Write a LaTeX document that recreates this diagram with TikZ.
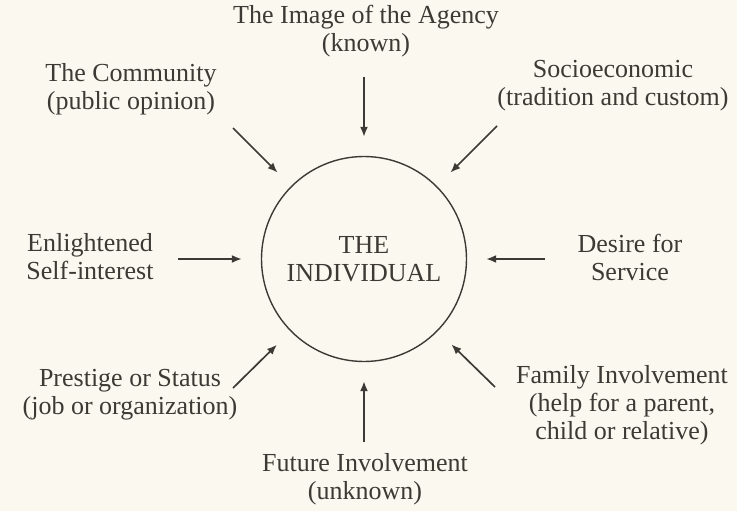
\documentclass[tikz,border=0pt]{standalone}
\usepackage{fontspec}
\setmainfont{Liberation Serif}
\usetikzlibrary{arrows.meta,positioning}
\definecolor{paper}{HTML}{FBF9EF}
\definecolor{ink}{HTML}{3E3934}

\begin{document}
\begin{tikzpicture}[x=1pt, y=-1pt]
    \tikzstyle{lbl} = [text=ink, align=center, font=\fontsize{26}{28}\selectfont, inner sep=0pt]
    \tikzstyle{core} = [circle, draw=ink, line width=1.4pt, minimum size=205pt, text=ink, align=center, font=\fontsize{26}{28}\selectfont]
    \tikzstyle{line} = [draw=ink, line width=1.7pt, -{Latex[length=10pt,width=8pt]}, shorten >=19pt]

    \fill [paper] (0,0) rectangle (737,511);
    \useasboundingbox (0,0) rectangle (737,511);

    \node [core] (ind) at (364,259) {THE\\INDIVIDUAL};

    \node [lbl] (agency) at (366,31) {The Image of the Agency\\(known)};
    \node [lbl] (community) at (131,89) {The Community\\(public opinion)};
    \node [lbl] (socio) at (613,86) {Socioeconomic\\(tradition and custom)};
    \node [lbl] (self) at (90,257) {Enlightened\\Self-interest};
    \node [lbl] (service) at (630,257) {Desire for\\Service};
    \node [lbl] (prestige) at (130,395) {Prestige or Status\\(job or organization)};
    \node [lbl] (family) at (622,405) {Family Involvement\\(help for a parent,\\child or relative)};
    \node [lbl] (future) at (365,479) {Future Involvement\\(unknown)};

    % free ends of the arrows
    \coordinate (agencyT) at (364,77);
    \coordinate (communityT) at (233,128);
    \coordinate (socioT) at (497,126);
    \coordinate (selfT) at (178,259);
    \coordinate (serviceT) at (545,259);
    \coordinate (prestigeT) at (233,388);
    \coordinate (familyT) at (495,387);
    \coordinate (futureT) at (364,442);

    \path [line] (agencyT) -- (ind);
    \path [line] (communityT) -- (ind);
    \path [line] (socioT) -- (ind);
    \path [line] (selfT) -- (ind);
    \path [line] (serviceT) -- (ind);
    \path [line] (prestigeT) -- (ind);
    \path [line] (familyT) -- (ind);
    \path [line] (futureT) -- (ind);
\end{tikzpicture}
\end{document}
